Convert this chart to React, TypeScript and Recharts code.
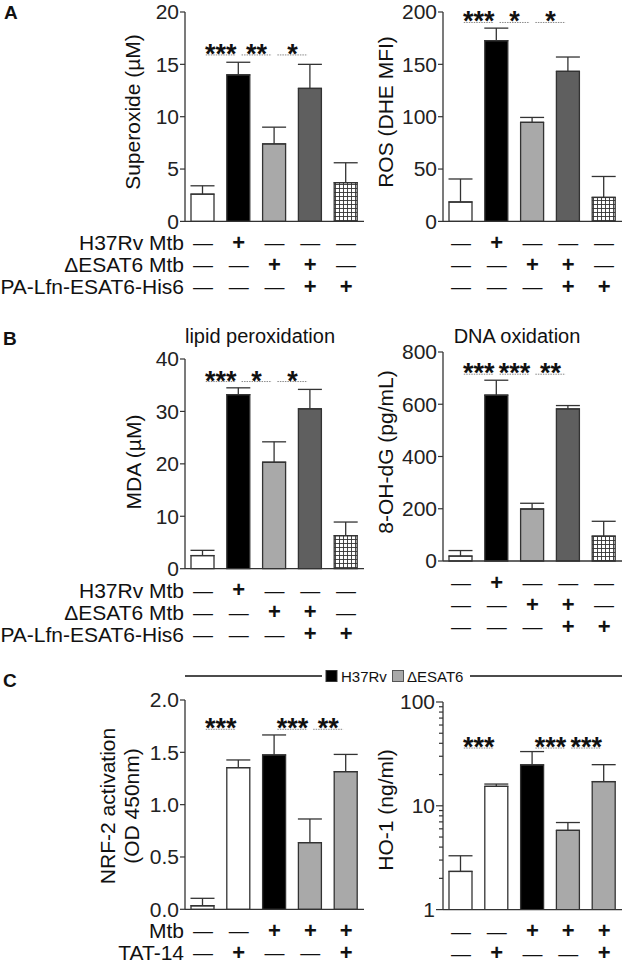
import React from 'react';
import { BarChart, Bar, XAxis, YAxis, ErrorBar, Cell, ReferenceLine, ReferenceDot } from 'recharts';

const FONT = '"Liberation Sans", Arial, Helvetica, sans-serif';
const INK = '#333';

// five conditions in every panel
const groups = [1, 2, 3, 4, 5];

// A: superoxide / ROS
const superoxideMean = [2.6, 14.0, 7.4, 12.7, 3.7];
const superoxideSem = [0.8, 1.2, 1.6, 2.3, 1.9];
const rosMean = [18.5, 172.6, 94.6, 143.3, 22.9];
const rosSem = [22, 12, 4.7, 13.7, 20];

// B: lipid peroxidation / DNA oxidation
const mdaMean = [2.5, 33.2, 20.3, 30.5, 6.3];
const mdaSem = [1.0, 1.3, 3.9, 3.7, 2.6];
const ohdgMean = [19, 635, 199, 582, 95];
const ohdgSem = [21, 57, 22, 13, 57];

// C: NRF-2 / HO-1
const nrf2Mean = [0.034, 1.353, 1.475, 0.637, 1.315];
const nrf2Sem = [0.071, 0.074, 0.191, 0.226, 0.165];
const ho1Mean = [2.33, 15.4, 24.8, 5.8, 17.1];
const ho1Sem = [0.97, 0.8, 8.5, 1.1, 7.8];

// treatment rows (1 = +, 0 = —)
const h37rvRow = [0, 1, 0, 0, 0];
const esat6Row = [0, 0, 1, 1, 0];
const paRow = [0, 0, 0, 1, 1];
const mtbRow = [0, 0, 1, 1, 1];
const tatRow = [0, 1, 0, 0, 1];
const abRowLabels = ['H37Rv Mtb', '\u0394ESAT6 Mtb', 'PA-Lfn-ESAT6-His6'];
const cRowLabels = ['Mtb', 'TAT-14'];

// significance: [from, to, label]
type Sig = [number, number, string];
const sigSuperoxide: Sig[] = [[1, 2, '***'], [2, 3, '**'], [3, 4, '*']];
const sigRos: Sig[] = [[1, 2, '***'], [2, 3, '*'], [3, 4, '*']];
const sigMda: Sig[] = [[1, 2, '***'], [2, 3, '*'], [3, 4, '*']];
const sigOhdg: Sig[] = [[1, 2, '***'], [2, 3, '***'], [3, 4, '**']];
const sigNrf2: Sig[] = [[1, 2, '***'], [3, 4, '***'], [4, 5, '**']];
const sigHo1: Sig[] = [[1, 2, '***'], [3, 4, '***'], [4, 5, '***']];

const superoxideTicks = [0, 5, 10, 15, 20];
const rosTicks = [0, 50, 100, 150, 200];
const mdaTicks = [0, 10, 20, 30, 40];
const ohdgTicks = [0, 200, 400, 600, 800];
const nrf2Ticks = [0, 0.5, 1.0, 1.5, 2.0];
const ho1Ticks = [1, 2, 3, 4, 5, 6, 7, 8, 9, 10, 20, 30, 40, 50, 60, 70, 80, 90, 100];

const abFills = ['#ffffff', '#000000', '#a9a9a9', '#5f5f5f', 'url(#gridFill)'];
const cFills = ['#ffffff', '#ffffff', '#000000', '#a9a9a9', '#a9a9a9'];

const YW = 70;
const PW = 179;
const MT = 16;
const MR = 8;
const XH = 80;

const SignTick = (props: any) => {
  const { x, y, payload, rows } = props;
  const i = Math.round(payload.value) - 1;
  return (
    <g>
      {rows.map((r: number[], k: number) =>
        r[i] ? (
          <text key={k} x={x} y={y + 21 + 22 * k} textAnchor="middle" dominantBaseline="central"
            fontFamily={FONT} fontSize={22} fontWeight="bold" fill="#111">+</text>
        ) : (
          <text key={k} x={x} y={y + 22 + 22 * k} textAnchor="middle" dominantBaseline="central"
            fontFamily={FONT} fontSize={20} fill="#111">{'\u2014'}</text>
        )
      )}
    </g>
  );
};

const LogTick = (props: any) => {
  const { x, y, payload } = props;
  const v = payload.value;
  const major = v === 1 || v === 10 || v === 100;
  const ax = x + 8;
  return (
    <g>
      <line x1={ax - (major ? 7 : 4)} x2={ax} y1={y} y2={y} stroke={INK} strokeWidth={1.2} />
      {major && (
        <text x={ax - 8} y={y} textAnchor="end" dominantBaseline="central" fontFamily={FONT} fontSize={21} fill="#222">
          {v}
        </text>
      )}
    </g>
  );
};

function Panel(props: {
  x0: number; y0: number; y1: number;
  means: number[]; sems: number[]; ticks: number[]; log?: boolean; decimals?: number;
  fills: string[]; sigs: Sig[]; sigY: number; rows: number[][];
}) {
  const { x0, y0, y1, means, sems, ticks, log, decimals, fills, sigs, sigY, rows } = props;
  const plotH = y1 - y0;
  const data = groups.map((g, i) => ({ x: g, mean: means[i], err: [0, sems[i]] }));
  const domain: [number, number] = [ticks[0], ticks[ticks.length - 1]];
  return (
    <div style={{ position: 'absolute', left: x0 - YW, top: y0 - MT }}>
      <BarChart width={YW + PW + MR} height={MT + plotH + XH} data={data}
        margin={{ top: MT, right: MR, bottom: 0, left: 0 }}>
        <XAxis dataKey="x" type="number" domain={[0.5, 5.5]} ticks={groups} interval={0}
          height={XH} tickSize={0} tickMargin={0} tickLine={false}
          axisLine={{ stroke: INK, strokeWidth: 1.3 }}
          tick={<SignTick rows={rows} />} />
        {log ? (
          <YAxis scale="log" domain={domain} ticks={ticks} interval={0} width={YW} allowDataOverflow
            tickSize={6} tickMargin={2} tickLine={false}
            axisLine={{ stroke: INK, strokeWidth: 1.3 }} tick={<LogTick />} />
        ) : (
          <YAxis domain={domain} ticks={ticks} interval={0} width={YW}
            tickSize={5} tickMargin={1}
            tickFormatter={(v: number) => (decimals ? v.toFixed(decimals) : String(v))}
            tickLine={{ stroke: INK, strokeWidth: 1.2 }}
            axisLine={{ stroke: INK, strokeWidth: 1.3 }}
            tick={{ fontSize: 21, fill: '#222', fontFamily: FONT }} />
        )}
        <Bar dataKey="mean" barSize={23} stroke={INK} strokeWidth={1.3} isAnimationActive={false}>
          {data.map((d, i) => (
            <Cell key={i} fill={fills[i]} />
          ))}
          <ErrorBar dataKey="err" direction="y" width={12} stroke={INK} strokeWidth={1.3} />
        </Bar>
        {sigs.map(([a, b], k) => (
          <ReferenceLine key={'l' + k} segment={[{ x: (a + b) / 2 - 0.42, y: sigY }, { x: (a + b) / 2 + 0.42, y: sigY }]}
            stroke="#8a8a8a" strokeWidth={1} strokeDasharray="1.5 1" />
        ))}
        {sigs.map(([a, b, label], k) => (
          <ReferenceDot key={'d' + k} x={(a + b) / 2} y={sigY} r={0}
            shape={(p: any) => (
              <text x={p.cx} y={p.cy - 7.5 + 15.5} textAnchor="middle" fontFamily={FONT} fontSize={27}
                fontWeight="bold" fill="#111">{label}</text>
            )} />
        ))}
      </BarChart>
    </div>
  );
}

const textStyle = { fontFamily: FONT, fill: '#111' } as const;

function YLabel({ x, y, children }: { x: number; y: number; children: React.ReactNode }) {
  return (
    <text x={x} y={y} transform={`rotate(-90 ${x} ${y})`} textAnchor="middle" dominantBaseline="central"
      fontSize={21} {...textStyle}>{children}</text>
  );
}

function RowLabels({ y1, labels }: { y1: number; labels: string[] }) {
  return (
    <>
      {labels.map((l, k) => (
        <text key={k} x={184} y={y1 + 21 + 22 * k} textAnchor="end" dominantBaseline="central" fontSize={21} {...textStyle}>
          {l}
        </text>
      ))}
    </>
  );
}

export default function App() {
  const abRows = [h37rvRow, esat6Row, paRow];
  const cRows = [mtbRow, tatRow];
  return (
    <div style={{ position: 'absolute', left: 0, top: 0, width: 628, height: 962, background: '#fff', overflow: 'hidden' }}>
      <svg width={0} height={0} style={{ position: 'absolute' }}>
        <defs>
          <pattern id="gridFill" width={4} height={4} patternUnits="userSpaceOnUse">
            <rect width={4} height={4} fill="#fff" />
            <path d="M0 0.5 H4 M0.5 0 V4" stroke="#333" strokeWidth={0.9} />
          </pattern>
        </defs>
      </svg>

      <Panel x0={185} y0={12.3} y1={221.7} means={superoxideMean} sems={superoxideSem} ticks={superoxideTicks}
        fills={abFills} sigs={sigSuperoxide} sigY={15.9} rows={abRows} />
      <Panel x0={442.5} y0={12.3} y1={221.7} means={rosMean} sems={rosSem} ticks={rosTicks}
        fills={abFills} sigs={sigRos} sigY={190} rows={abRows} />
      <Panel x0={185} y0={359.3} y1={569} means={mdaMean} sems={mdaSem} ticks={mdaTicks}
        fills={abFills} sigs={sigMda} sigY={35.7} rows={abRows} />
      <Panel x0={442.5} y0={351.7} y1={560.7} means={ohdgMean} sems={ohdgSem} ticks={ohdgTicks}
        fills={abFills} sigs={sigOhdg} sigY={715} rows={abRows} />
      <Panel x0={185} y0={700} y1={909.3} means={nrf2Mean} sems={nrf2Sem} ticks={nrf2Ticks} decimals={1}
        fills={cFills} sigs={sigNrf2} sigY={1.72} rows={cRows} />
      <Panel x0={442.5} y0={701.7} y1={909.3} means={ho1Mean} sems={ho1Sem} ticks={ho1Ticks} log
        fills={cFills} sigs={sigHo1} sigY={36} rows={cRows} />

      <svg width={628} height={962} style={{ position: 'absolute', left: 0, top: 0, pointerEvents: 'none' }}>
        <text x={4} y={18.5} fontSize={19} fontWeight="bold" {...textStyle}>A</text>
        <text x={3} y={345} fontSize={19} fontWeight="bold" {...textStyle}>B</text>
        <text x={3} y={687} fontSize={19} fontWeight="bold" {...textStyle}>C</text>

        <YLabel x={132} y={112}>Superoxide (µM)</YLabel>
        <YLabel x={385} y={112}>ROS (DHE MFI)</YLabel>
        <YLabel x={133} y={462}>MDA (µM)</YLabel>
        <YLabel x={385} y={452}>8-OH-dG (pg/mL)</YLabel>
        <YLabel x={107} y={806}>NRF-2 activation</YLabel>
        <YLabel x={131} y={806}>(OD 450nm)</YLabel>
        <YLabel x={385} y={810}>HO-1 (ng/ml)</YLabel>

        <text x={260} y={343} textAnchor="middle" fontSize={20} {...textStyle}>lipid peroxidation</text>
        <text x={517} y={343} textAnchor="middle" fontSize={20} {...textStyle}>DNA oxidation</text>

        <RowLabels y1={221.7} labels={abRowLabels} />
        <RowLabels y1={569} labels={abRowLabels} />
        <RowLabels y1={909.3} labels={cRowLabels} />

        <line x1={185} x2={322} y1={676} y2={676} stroke="#111" strokeWidth={1.3} />
        <line x1={470} x2={622} y1={676} y2={676} stroke="#111" strokeWidth={1.3} />
        <rect x={326} y={670.5} width={11} height={11} fill="#000" stroke="#333" strokeWidth={1} />
        <text x={341} y={676} dominantBaseline="central" fontSize={15} {...textStyle}>H37Rv</text>
        <rect x={392.5} y={670.5} width={11} height={11} fill="#a9a9a9" stroke="#555" strokeWidth={1} />
        <text x={407} y={676} dominantBaseline="central" fontSize={15} {...textStyle}>{'\u0394ESAT6'}</text>
      </svg>
    </div>
  );
}
